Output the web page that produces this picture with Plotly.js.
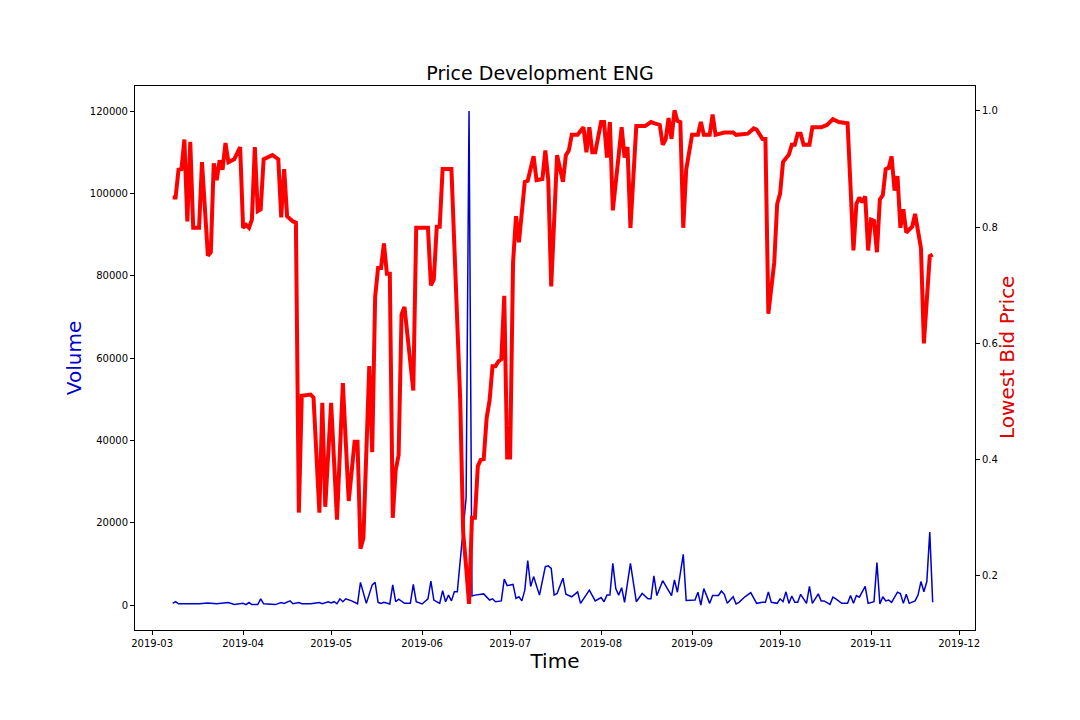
<!DOCTYPE html>
<html>
<head>
<meta charset="utf-8">
<script src="https://cdn.plot.ly/plotly-3.0.1.min.js"></script>
<style>
html,body{margin:0;padding:0;background:#fff;}
#chart{width:1080px;height:720px;}
</style>
</head>
<body>
<div id="chart"></div>
<script>
const chartTitle = "Price Development ENG";
const xTitle = "Time";
const yTitle = "Volume";
const y2Title = "Lowest Bid Price";

const volDates = [
"2019-03-08","2019-03-09","2019-03-10","2019-03-17","2019-03-20","2019-03-23","2019-03-27","2019-03-29",
"2019-04-01","2019-04-02","2019-04-03","2019-04-04","2019-04-06","2019-04-07","2019-04-08","2019-04-12",
"2019-04-14","2019-04-15","2019-04-17","2019-04-18","2019-04-20","2019-04-21","2019-04-24","2019-04-27",
"2019-04-28","2019-04-30","2019-05-01","2019-05-02","2019-05-03","2019-05-04","2019-05-05","2019-05-06",
"2019-05-08","2019-05-10","2019-05-11","2019-05-12","2019-05-13","2019-05-15","2019-05-16","2019-05-17",
"2019-05-18","2019-05-19","2019-05-21","2019-05-22","2019-05-23","2019-05-24","2019-05-26","2019-05-28",
"2019-05-29","2019-05-30","2019-06-01","2019-06-03","2019-06-04","2019-06-05","2019-06-07","2019-06-08",
"2019-06-09","2019-06-10","2019-06-11","2019-06-12","2019-06-13","2019-06-16","2019-06-17","2019-06-18",
"2019-06-19","2019-06-22","2019-06-24","2019-06-25","2019-06-26","2019-06-28","2019-06-29","2019-06-30",
"2019-07-02","2019-07-03","2019-07-04","2019-07-05","2019-07-06","2019-07-07","2019-07-08","2019-07-09",
"2019-07-11","2019-07-13","2019-07-14","2019-07-15","2019-07-16","2019-07-17","2019-07-19","2019-07-20",
"2019-07-22","2019-07-24","2019-07-25","2019-07-28","2019-07-30","2019-08-01","2019-08-02","2019-08-03",
"2019-08-04","2019-08-05","2019-08-06","2019-08-07","2019-08-08","2019-08-09","2019-08-11","2019-08-13",
"2019-08-15","2019-08-17","2019-08-18","2019-08-19","2019-08-20","2019-08-22","2019-08-24","2019-08-25",
"2019-08-26","2019-08-27","2019-08-29","2019-08-30","2019-09-02","2019-09-03","2019-09-04","2019-09-05",
"2019-09-07","2019-09-08","2019-09-10","2019-09-11","2019-09-12","2019-09-13","2019-09-15","2019-09-16",
"2019-09-17","2019-09-19","2019-09-21","2019-09-23","2019-09-25","2019-09-26","2019-09-27","2019-09-28",
"2019-09-30","2019-10-01","2019-10-02","2019-10-03","2019-10-04","2019-10-05","2019-10-06","2019-10-07",
"2019-10-08","2019-10-10","2019-10-11","2019-10-12","2019-10-14","2019-10-15","2019-10-16","2019-10-18",
"2019-10-19","2019-10-20","2019-10-22","2019-10-24","2019-10-25","2019-10-26","2019-10-27","2019-10-28",
"2019-10-30","2019-10-31","2019-11-02","2019-11-03","2019-11-04","2019-11-05","2019-11-06","2019-11-07",
"2019-11-08","2019-11-10","2019-11-11","2019-11-12","2019-11-13","2019-11-14","2019-11-16","2019-11-17",
"2019-11-18","2019-11-19","2019-11-20","2019-11-21","2019-11-22"
];
const volValues = [
400,800,300,300,500,300,600,150,
400,100,600,100,100,1500,300,100,
600,400,1000,300,600,300,300,600,
300,800,500,800,300,1500,800,1500,
1000,300,5500,3200,400,4900,5500,650,
400,650,250,4900,800,1400,400,400,
5000,800,250,1500,5800,1200,400,3500,
800,2400,1000,3200,3200,26000,120000,2200,
2400,2700,1200,1500,800,1000,6300,4700,
5000,1600,2000,1000,3600,10800,4500,6900,
2400,9300,9500,8900,2400,2800,6500,2600,
2000,3200,400,3600,1000,1800,800,2400,
2400,10100,4000,2400,4200,650,10100,800,
2800,1500,1500,7100,2300,5900,3600,2300,
6100,3100,12300,1100,1200,3100,0,4000,
400,2300,2300,3400,2600,400,2000,250,
650,2000,3000,400,650,650,3200,650,
400,1500,800,3200,400,2200,650,650,
2600,400,4500,400,2700,1000,1000,150,
1900,1500,400,400,2300,400,2300,1900,
4500,400,800,10300,250,2000,1000,1200,
650,3100,2800,400,2600,400,1000,2400,
5700,3200,5700,17700,650
];

const priceDates = [
"2019-03-08","2019-03-09","2019-03-10","2019-03-11","2019-03-12","2019-03-13","2019-03-14","2019-03-15",
"2019-03-17","2019-03-18","2019-03-20","2019-03-21","2019-03-22","2019-03-23","2019-03-24","2019-03-25",
"2019-03-26","2019-03-27","2019-03-29","2019-03-31","2019-04-01","2019-04-02","2019-04-03","2019-04-04",
"2019-04-05","2019-04-06","2019-04-07","2019-04-08","2019-04-11","2019-04-13","2019-04-14","2019-04-15",
"2019-04-16","2019-04-18","2019-04-19","2019-04-20","2019-04-21","2019-04-24","2019-04-25","2019-04-27",
"2019-04-28","2019-04-29","2019-05-01","2019-05-03","2019-05-05","2019-05-07","2019-05-09","2019-05-10",
"2019-05-11","2019-05-12","2019-05-14","2019-05-15","2019-05-16","2019-05-17","2019-05-18","2019-05-19",
"2019-05-20","2019-05-21","2019-05-22","2019-05-23","2019-05-24","2019-05-25","2019-05-26","2019-05-29",
"2019-05-30","2019-06-03","2019-06-04","2019-06-05","2019-06-06","2019-06-07","2019-06-08","2019-06-11",
"2019-06-14","2019-06-15","2019-06-16","2019-06-17","2019-06-18","2019-06-19","2019-06-20","2019-06-21",
"2019-06-22","2019-06-23","2019-06-24","2019-06-25","2019-06-26","2019-06-27","2019-06-28","2019-06-29",
"2019-06-30","2019-07-01","2019-07-02","2019-07-03","2019-07-04","2019-07-06","2019-07-07","2019-07-09",
"2019-07-10","2019-07-12","2019-07-13","2019-07-14","2019-07-15","2019-07-17","2019-07-19","2019-07-20",
"2019-07-21","2019-07-22","2019-07-24","2019-07-26","2019-07-27","2019-07-28","2019-07-29","2019-07-30",
"2019-08-01","2019-08-02","2019-08-03","2019-08-04","2019-08-05","2019-08-08","2019-08-09","2019-08-10",
"2019-08-11","2019-08-13","2019-08-16","2019-08-18","2019-08-19","2019-08-21","2019-08-22","2019-08-23",
"2019-08-24","2019-08-25","2019-08-26","2019-08-27","2019-08-28","2019-08-29","2019-08-30","2019-09-01",
"2019-09-03","2019-09-04","2019-09-05","2019-09-07","2019-09-08","2019-09-09","2019-09-12","2019-09-15",
"2019-09-16","2019-09-20","2019-09-22","2019-09-23","2019-09-25","2019-09-26","2019-09-27","2019-09-29",
"2019-09-30","2019-10-01","2019-10-02","2019-10-04","2019-10-05","2019-10-06","2019-10-07","2019-10-08",
"2019-10-09","2019-10-11","2019-10-12","2019-10-15","2019-10-17","2019-10-19","2019-10-21","2019-10-24",
"2019-10-26","2019-10-27","2019-10-28","2019-10-29","2019-10-30","2019-10-31","2019-11-01","2019-11-02",
"2019-11-03","2019-11-04","2019-11-05","2019-11-06","2019-11-07","2019-11-08","2019-11-09","2019-11-10",
"2019-11-11","2019-11-12","2019-11-13","2019-11-15","2019-11-16","2019-11-17","2019-11-18","2019-11-19",
"2019-11-21","2019-11-22"
];
const priceValues = [
0.851,0.851,0.899,0.900,0.951,0.810,0.947,0.799,
0.799,0.912,0.751,0.757,0.910,0.881,0.915,0.899,
0.945,0.912,0.917,0.938,0.799,0.804,0.799,0.813,
0.938,0.828,0.831,0.917,0.924,0.917,0.817,0.900,
0.819,0.810,0.808,0.309,0.510,0.512,0.507,0.309,
0.498,0.319,0.498,0.297,0.532,0.329,0.431,0.431,
0.247,0.265,0.561,0.413,0.680,0.730,0.730,0.772,
0.720,0.720,0.300,0.382,0.408,0.650,0.663,0.519,
0.799,0.799,0.700,0.710,0.801,0.801,0.900,0.900,
0.502,0.275,0.216,0.152,0.300,0.300,0.389,0.400,
0.401,0.472,0.502,0.561,0.561,0.569,0.573,0.682,
0.404,0.404,0.739,0.819,0.774,0.878,0.880,0.922,
0.881,0.883,0.932,0.881,0.698,0.924,0.878,0.924,
0.932,0.959,0.959,0.972,0.929,0.972,0.929,0.929,
0.981,0.981,0.920,0.981,0.829,0.972,0.920,0.938,
0.799,0.974,0.974,0.981,0.979,0.976,0.942,0.951,
0.988,0.952,1.001,0.983,0.981,0.799,0.899,0.959,
0.959,0.981,0.959,0.959,0.994,0.959,0.963,0.963,
0.959,0.961,0.970,0.968,0.952,0.952,0.651,0.739,
0.840,0.858,0.912,0.925,0.942,0.942,0.961,0.961,
0.942,0.942,0.972,0.972,0.976,0.986,0.981,0.979,
0.760,0.840,0.851,0.843,0.853,0.760,0.813,0.811,
0.757,0.848,0.855,0.900,0.902,0.922,0.863,0.888,
0.799,0.831,0.791,0.801,0.823,0.792,0.764,0.600,
0.750,0.753
];

const xTickVals = ["2019-03-01","2019-04-01","2019-05-01","2019-06-01","2019-07-01","2019-08-01","2019-09-01","2019-10-01","2019-11-01","2019-12-01"];
const xTickText = ["2019-03","2019-04","2019-05","2019-06","2019-07","2019-08","2019-09","2019-10","2019-11","2019-12"];
const yTickVals = [0,20000,40000,60000,80000,100000,120000];
const y2TickVals = [0.2,0.4,0.6,0.8,1.0];

const FONT = "DejaVu Sans, Arial, sans-serif";

const traces = [
  {
    x: volDates, y: volValues, type: "scatter", mode: "lines",
    line: {color: "#0000cd", width: 1.5}, name: yTitle, yaxis: "y", hoverinfo: "skip"
  },
  {
    x: priceDates, y: priceValues, type: "scatter", mode: "lines",
    line: {color: "#ff0000", width: 4}, name: y2Title, yaxis: "y2", hoverinfo: "skip"
  }
];

const layout = {
  width: 1080, height: 720,
  margin: {l: 135, r: 105, t: 86, b: 90},
  paper_bgcolor: "#ffffff", plot_bgcolor: "#ffffff",
  showlegend: false,
  font: {family: FONT, color: "#000", size: 10},
  title: {text: chartTitle, font: {family: FONT, size: 19, color: "#000"}, x: 0.5, xanchor: "center", y: 0.898, yanchor: "middle"},
  xaxis: {
    type: "date",
    range: ["2019-02-23 04:00", "2019-12-06 10:00"],
    tickvals: xTickVals, ticktext: xTickText,
    ticks: "outside", ticklen: 4, tickwidth: 1, tickcolor: "#000",
    showline: true, linecolor: "#000", linewidth: 1, mirror: true,
    showgrid: false, zeroline: false,
    tickfont: {family: FONT, size: 10, color: "#000"},
    title: {text: xTitle, font: {family: FONT, size: 20, color: "#000"}, standoff: 2}
  },
  yaxis: {
    range: [-6072, 126072],
    tickvals: yTickVals, tickformat: "d",
    ticks: "outside", ticklen: 4, tickwidth: 1, tickcolor: "#000",
    showline: true, linecolor: "#000", linewidth: 1,
    showgrid: false, zeroline: false,
    tickfont: {family: FONT, size: 10, color: "#000"},
    title: {text: yTitle, font: {family: FONT, size: 20, color: "#0000cd"}, standoff: 2}
  },
  yaxis2: {
    overlaying: "y", side: "right",
    range: [0.107, 1.043],
    tickvals: y2TickVals, tickformat: ".1f",
    ticks: "outside", ticklen: 4, tickwidth: 1, tickcolor: "#000",
    showline: true, linecolor: "#000", linewidth: 1,
    showgrid: false, zeroline: false,
    tickfont: {family: FONT, size: 10, color: "#000"}
  },
  annotations: [
    {
      text: y2Title, xref: "paper", yref: "paper",
      x: (1007 - 135) / 840, y: 0.5, xanchor: "center", yanchor: "middle",
      textangle: -90, showarrow: false,
      font: {family: FONT, size: 20, color: "#e00000"}
    }
  ]
};

Plotly.newPlot("chart", traces, layout, {staticPlot: true, displayModeBar: false});
</script>
</body>
</html>
